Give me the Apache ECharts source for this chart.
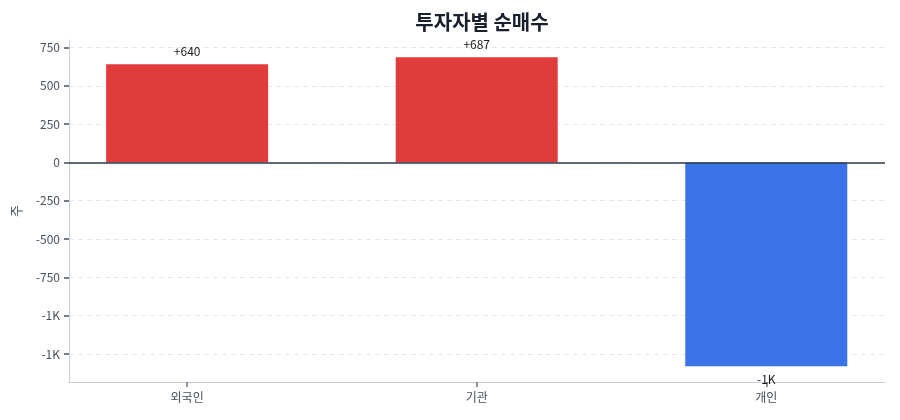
<!DOCTYPE html>
<html>
<head>
<meta charset="utf-8">
<script src="https://cdn.jsdelivr.net/npm/echarts@6/dist/echarts.min.js"></script>
<style>
html,body{margin:0;padding:0;background:#fff;}
#chart{width:900px;height:420px;}
</style>
</head>
<body>
<div id="chart"></div>
<script>
const categories = ['외국인', '기관', '개인'];
const netBuy = [640, 687, -1330];
const yTicks = [-1250, -1000, -750, -500, -250, 0, 250, 500, 750];
const catPositions = [0, 1, 2];

const FONT = '"Noto Sans CJK KR", "Noto Sans", sans-serif';

function fmtLabel(v) {
  if (Math.abs(v) >= 1000) return (v < 0 ? '-' : '+') + Math.round(Math.abs(v) / 1000) + 'K';
  return (v > 0 ? '+' : '') + v;
}
function fmtTick(v) {
  if (Math.abs(v) >= 1000) return (v < 0 ? '-' : '') + Math.round(Math.abs(v) / 1000) + 'K';
  return String(v);
}

const chart = echarts.init(document.getElementById('chart'), null, {renderer: 'canvas'});
chart.setOption({
  animation: false,
  backgroundColor: '#ffffff',
  textStyle: {fontFamily: FONT},
  title: {
    text: '투자자별 순매수',
    left: 477,
    textAlign: 'center',
    top: 7,
    textStyle: {fontFamily: FONT, fontSize: 20, fontWeight: 'bold', color: '#1a1f2e'}
  },
  grid: {left: 69, right: 15, top: 40, bottom: 38, containLabel: false},
  xAxis: {
    type: 'value',
    min: -0.408,
    max: 2.41,
    axisLine: {show: true, onZero: false, lineStyle: {color: '#c9cdd8', width: 1}},
    axisTick: {show: true, customValues: catPositions, length: 5, lineStyle: {color: '#6a707c', width: 1.5}},
    axisLabel: {
      customValues: catPositions,
      formatter: v => categories[Math.round(v)] || '',
      color: '#4a5060', fontSize: 12, margin: 9, fontFamily: FONT
    },
    splitLine: {show: false}
  },
  yAxis: {
    type: 'value',
    min: -1433,
    max: 799,
    name: '주',
    nameLocation: 'middle',
    nameRotate: 90,
    nameGap: 46,
    nameTextStyle: {color: '#4a5060', fontSize: 13, fontFamily: FONT},
    axisLine: {show: true, onZero: false, lineStyle: {color: '#c9cdd8', width: 1}},
    axisTick: {show: true, customValues: yTicks, length: 5, lineStyle: {color: '#4a5060', width: 1.5}},
    axisLabel: {customValues: yTicks, formatter: fmtTick, color: '#4a5060', fontSize: 12, margin: 9, fontFamily: FONT},
    splitLine: {show: true, lineStyle: {color: '#e6e8ec', type: [5, 4], width: 1}}
  },
  series: [{
    type: 'bar',
    data: netBuy.map((v, i) => ({
      value: [catPositions[i], v],
      label: {position: v >= 0 ? 'top' : 'bottom'}
    })),
    barWidth: 162,
    itemStyle: {
      color: p => (p.value[1] >= 0 ? '#e03c3c' : '#3a72e8')
    },
    label: {
      show: true,
      distance: 7,
      formatter: p => fmtLabel(p.value[1]),
      color: '#1a1a1a',
      fontSize: 12,
      fontFamily: FONT
    },
    markLine: {
      silent: true,
      symbol: 'none',
      label: {show: false},
      lineStyle: {color: '#2f3a4a', width: 1.5, type: 'solid'},
      data: [{yAxis: 0}]
    },
    z: 2
  }]
});
</script>
</body>
</html>
